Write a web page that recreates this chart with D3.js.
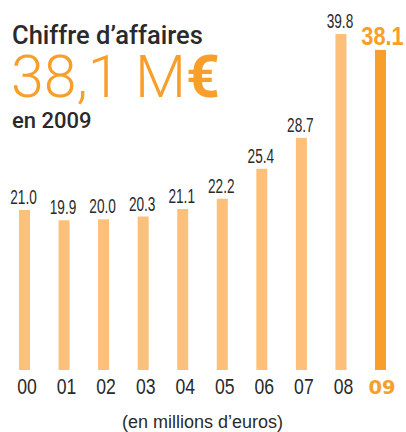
<!DOCTYPE html>
<html>
<head>
<meta charset="utf-8">
<script src="https://cdn.jsdelivr.net/npm/d3@7"></script>
<style>
	html, body { margin: 0; padding: 0; background: #fff; }
	svg { display: block; }
</style>
</head>
<body>
<div class="chart"></div>
<script>
const years = ["00", "01", "02", "03", "04", "05", "06", "07", "08", "09"];
const revenue = [21.0, 19.9, 20.0, 20.3, 21.1, 22.2, 25.4, 28.7, 39.8, 38.1];
const valueLabels = ["21.0", "19.9", "20.0", "20.3", "21.1", "22.2", "25.4", "28.7", "39.8", "38.1"];

const width = 406;
const height = 432;
const barWidth = 11;
const lightOrange = "#fcc07a";
const darkOrange = "#f89e2a";
const textColor = "#2a2a2a";
const sans = "'Liberation Sans', Arial, sans-serif";

const svg = d3.select(".chart")
	.append("svg")
	.attr("width", width)
	.attr("height", height);

// scales
const x = d3.scalePoint()
	.domain(years)
	.range([24.5, 380.5]);

const y = d3.scaleLinear()
	.domain([3.9, 39.8])
	.range([370, 34]);

const isLast = (i) => i === years.length - 1;

// bars
svg.append("g")
	.selectAll("rect")
	.data(revenue)
	.enter()
	.append("rect")
		.attr("x", (d, i) => x(years[i]) - barWidth / 2)
		.attr("y", (d) => y(d))
		.attr("width", barWidth)
		.attr("height", (d) => y.range()[0] - y(d))
		.attr("fill", (d, i) => isLast(i) ? darkOrange : lightOrange);

// value labels (condensed look via horizontal squeeze)
svg.append("g")
	.selectAll("text")
	.data(revenue)
	.enter()
	.append("text")
		.attr("transform", (d, i) => isLast(i)
			? `translate(${x(years[i]) + 2},${y(d) - 5}) scale(0.82,1)`
			: `translate(${x(years[i]) - 1},${y(d) - 6}) scale(0.7,1)`)
		.attr("text-anchor", "middle")
		.style("font-family", sans)
		.style("font-size", (d, i) => isLast(i) ? "26.5px" : "19.5px")
		.style("font-weight", (d, i) => isLast(i) ? "bold" : "normal")
		.attr("fill", (d, i) => isLast(i) ? darkOrange : textColor)
		.text((d, i) => valueLabels[i]);

// year axis
const axis = svg.append("g")
	.attr("transform", `translate(0,${y.range()[0]})`)
	.call(d3.axisBottom(x).tickSize(0).tickPadding(0));
axis.select(".domain").remove();
axis.selectAll(".tick text")
	.attr("y", 0)
	.attr("dy", null)
	.attr("transform", (d) => d === "09" ? "translate(1,24)" : "translate(2,24) scale(0.8,1)")
	.style("font-family", (d) => d === "09" ? "'DejaVu Sans', sans-serif" : sans)
	.style("font-size", (d) => d === "09" ? "19.5px" : "22px")
	.style("font-weight", (d) => d === "09" ? "bold" : "normal")
	.attr("fill", (d) => d === "09" ? darkOrange : textColor);

// headline
svg.append("text")
	.attr("x", 12)
	.attr("y", 44)
	.style("font-family", "Roboto, sans-serif")
	.style("font-size", "25.5px")
	.style("font-weight", 500)
	.attr("fill", textColor)
	.text("Chiffre d\u2019affaires");

const big = svg.append("text")
	.attr("x", 11)
	.attr("y", 97)
	.style("font-family", "Roboto, sans-serif")
	.style("font-size", "59px")
	.style("font-weight", 300)
	.attr("fill", darkOrange);
big.append("tspan").text("38,1 M");
big.append("tspan").style("font-weight", "bold").text("\u20ac");

svg.append("text")
	.attr("x", 12)
	.attr("y", 128)
	.style("font-family", "Roboto, sans-serif")
	.style("font-size", "22px")
	.style("font-weight", 500)
	.attr("fill", textColor)
	.text("en 2009");

// unit note
svg.append("text")
	.attr("x", 202.5)
	.attr("y", 428)
	.attr("text-anchor", "middle")
	.style("font-family", sans)
	.style("font-size", "18px")
	.attr("fill", textColor)
	.text("(en millions d\u2019euros)");
</script>
</body>
</html>
